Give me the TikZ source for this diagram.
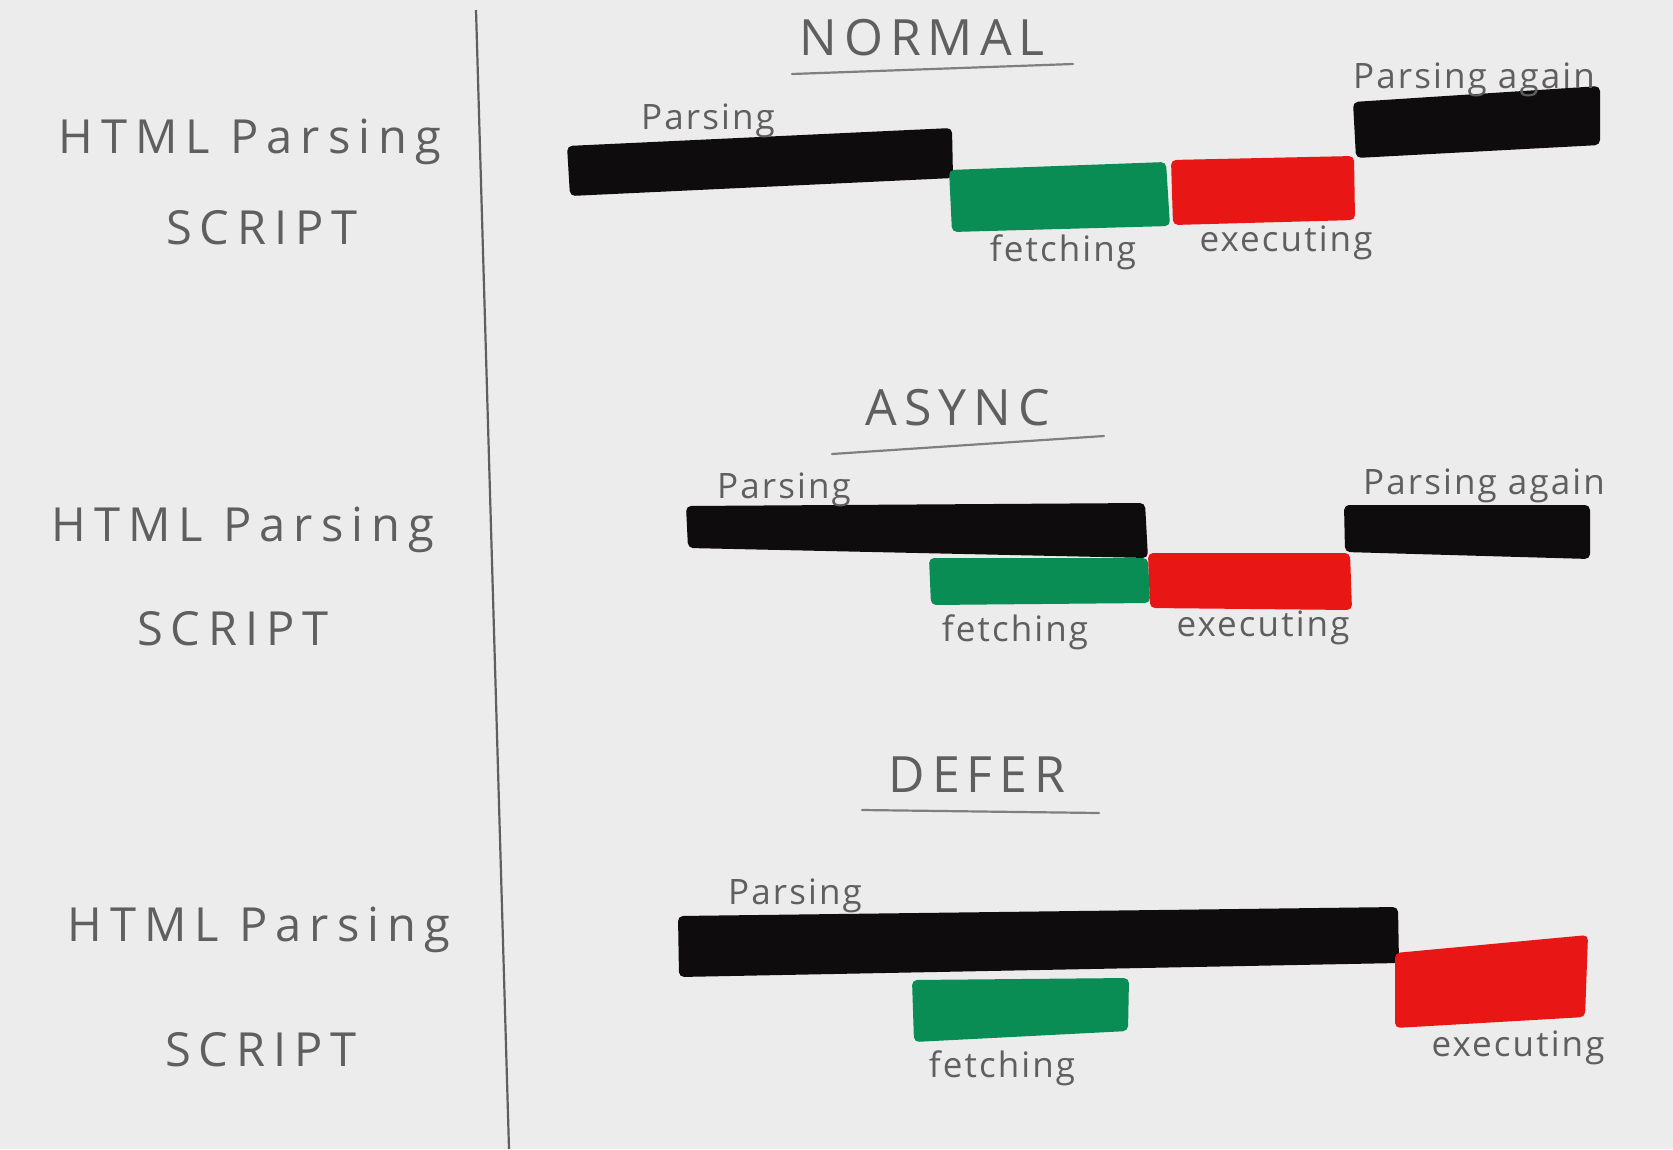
\documentclass[tikz,border=0pt]{standalone}
\usepackage{fontspec}
\setmainfont{Open Sans}
\newfontfamily\sidefont{Open Sans}[LetterSpace=17]
\newfontfamily\titlefont{Open Sans}[LetterSpace=14]
\newfontfamily\labelfont{Open Sans}[LetterSpace=6]
\definecolor{paper}{RGB}{236,236,236}
\definecolor{ink}{RGB}{95,95,95}
\definecolor{marker}{RGB}{14,12,12}
\definecolor{fetchgreen}{RGB}{10,140,85}
\definecolor{execred}{RGB}{232,22,20}
\begin{document}
\begin{tikzpicture}[x=1pt,y=-1pt,
  bar/.style={line join=round,rounded corners=5pt},
  parsebar/.style={bar,fill=marker},
  fetchbar/.style={bar,fill=fetchgreen},
  execbar/.style={bar,fill=execred},
  side/.style={text=ink,font=\sidefont\fontsize{47}{52}\selectfont,inner sep=0pt},
  title/.style={text=ink,font=\titlefont\fontsize{50}{56}\selectfont,inner sep=0pt},
  tag/.style={text=ink,font=\labelfont\fontsize{35}{40}\selectfont,inner sep=0pt},
  rule/.style={draw=ink!80,line width=2.2pt,line cap=round}]
% paper
\fill[paper] (0,0) rectangle (1673,1149);
\useasboundingbox (0,0) rectangle (1673,1149);
% divider between the row labels and the timelines
\coordinate (divtop) at (476,10);
\coordinate (divbot) at (509,1149);
\draw[ink,line width=2.2pt] (divtop) -- (divbot);

% row labels
\node[side] (h1) at (250,142) {HTML Parsing};
\node[side] (s1) at (262,228) {SCRIPT};
\node[side] (h2) at (243,530) {HTML Parsing};
\node[side] (s2) at (233,629) {SCRIPT};
\node[side] (h3) at (259,930) {HTML Parsing};
\node[side] (s3) at (261,1050) {SCRIPT};

% ---------- NORMAL ----------
\node[title] (tn) at (922,38) {NORMAL};
\coordinate (tnl) at (792,74); \coordinate (tnr) at (1073,64);
\draw[rule] (tnl) -- (tnr);
\fill[parsebar] (567,146) -- (952,128) -- (953,178) -- (570,196) -- cycle;
\fill[fetchbar] (949,170) -- (1166,162) -- (1170,226) -- (952,232) -- cycle;
\fill[execbar] (1171,160) -- (1354,156) -- (1355,220) -- (1173,225) -- cycle;
\fill[parsebar] (1353,102) -- (1600,86) -- (1600,145) -- (1356,158) -- cycle;
\node[tag] (pn) at (708,121) {Parsing};
\node[tag] (fn) at (1063,252) {fetching};
\node[tag] (en) at (1286,243) {executing};
\node[tag] (an) at (1474,80) {Parsing again};

% ---------- ASYNC ----------
\node[title] (ta) at (958,408) {ASYNC};
\coordinate (tal) at (832,454); \coordinate (tar) at (1104,436);
\draw[rule] (tal) -- (tar);
\fill[parsebar] (686,506) -- (1145,503) -- (1148,558) -- (688,548) -- cycle;
\fill[fetchbar] (929,558) -- (1148,558) -- (1150,603) -- (931,605) -- cycle;
\fill[execbar] (1148,553) -- (1350,553) -- (1352,610) -- (1150,608) -- cycle;
\fill[parsebar] (1344,505) -- (1590,505) -- (1590,559) -- (1345,552) -- cycle;
\node[tag] (pa) at (784,490) {Parsing};
\node[tag] (fa) at (1015,632) {fetching};
\node[tag] (ea) at (1263,628) {executing};
\node[tag] (aa) at (1484,486) {Parsing again};

% ---------- DEFER ----------
\node[title] (td) at (977,775) {DEFER};
\coordinate (tdl) at (862,810); \coordinate (tdr) at (1099,813);
\draw[rule] (tdl) -- (tdr);
\fill[parsebar] (678,916) -- (1398,907) -- (1399,963) -- (679,977) -- cycle;
\fill[fetchbar] (912,980) -- (1129,978) -- (1128,1031) -- (914,1042) -- cycle;
\fill[execbar] (1395,953) -- (1588,935) -- (1585,1017) -- (1395,1028) -- cycle;
\node[tag] (pd) at (795,896) {Parsing};
\node[tag] (fd) at (1002,1068) {fetching};
\node[tag] (ed) at (1518,1048) {executing};
\end{tikzpicture}
\end{document}
